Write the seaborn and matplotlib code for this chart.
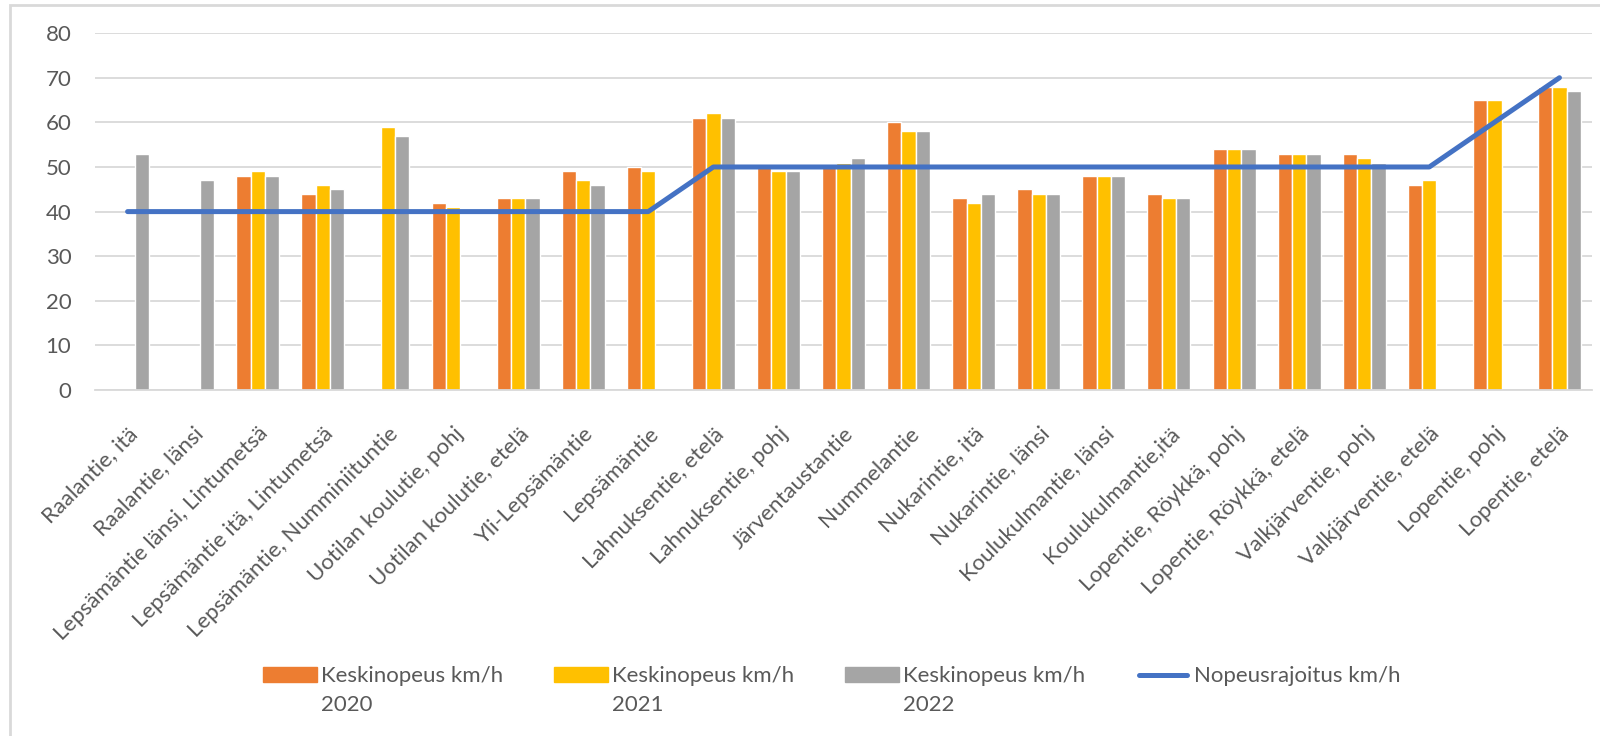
import numpy as np
import pandas as pd
import matplotlib.pyplot as plt
from matplotlib.patches import Rectangle, Patch
from matplotlib.lines import Line2D
from matplotlib.legend_handler import HandlerPatch
import seaborn as sns

paikat = [
    'Raalantie, itä', 'Raalantie, länsi', 'Lepsämäntie länsi, Lintumetsä',
    'Lepsämäntie itä, Lintumetsä', 'Lepsämäntie, Numminiituntie',
    'Uotilan koulutie, pohj', 'Uotilan koulutie, etelä', 'Yli-Lepsämäntie',
    'Lepsämäntie', 'Lahnuksentie, etelä', 'Lahnuksentie, pohj',
    'Järventaustantie', 'Nummelantie', 'Nukarintie, itä', 'Nukarintie, länsi',
    'Koulukulmantie, länsi', 'Koulukulmantie,itä', 'Lopentie, Röykkä, pohj',
    'Lopentie, Röykkä, etelä', 'Valkjärventie, pohj', 'Valkjärventie, etelä',
    'Lopentie, pohj', 'Lopentie, etelä',
]
nan = np.nan
v2020 = [nan, nan, 48, 44, nan, 42, 43, 49, 50, 61, 50, 50, 60, 43, 45, 48, 44, 54, 53, 53, 46, 65, 68]
v2021 = [nan, nan, 49, 46, 59, 41, 43, 47, 49, 62, 49, 51, 58, 42, 44, 48, 43, 54, 53, 52, 47, 65, 68]
v2022 = [53, 47, 48, 45, 57, nan, 43, 46, nan, 61, 49, 52, 58, 44, 44, 48, 43, 54, 53, 51, nan, nan, 67]
rajoitus = [40, 40, 40, 40, 40, 40, 40, 40, 40, 50, 50, 50, 50, 50, 50, 50, 50, 50, 50, 50, 50, 60, 70]

sarjat = ['Keskinopeus km/h\n2020', 'Keskinopeus km/h\n2021', 'Keskinopeus km/h\n2022']
varit = ['#ED7D31', '#FFC000', '#A5A5A5']
viiva_nimi = 'Nopeusrajoitus km/h'
viiva_vari = '#4472C4'

rows = []
for s, vals in zip(sarjat, [v2020, v2021, v2022]):
    for p, v in zip(paikat, vals):
        rows.append({'Paikka': p, 'Sarja': s, 'Nopeus': v})
df = pd.DataFrame(rows).dropna()

sns.set_style('white')
plt.rcParams['font.family'] = ['Lato', 'DejaVu Sans']
txt = '#595959'

fig = plt.figure(figsize=(16, 7.36), dpi=100)
ax = fig.add_axes([0.0594, 0.470, 0.9356, 0.485])

sns.barplot(data=df, x='Paikka', y='Nopeus', hue='Sarja', order=paikat,
            hue_order=sarjat, palette=dict(zip(sarjat, varit)),
            width=0.66, gap=0, errorbar=None, saturation=1, ax=ax, legend=False,
            zorder=2)
ax.plot(np.arange(len(paikat)), rajoitus, color=viiva_vari, lw=3.6,
        solid_capstyle='round', zorder=3)

ax.set_ylim(0, 80)
ax.set_xlim(-0.5, len(paikat) - 0.5)
ax.set_yticks(range(0, 81, 10))
ax.yaxis.grid(True, color='#D9D9D9', lw=1.3, zorder=0)
ax.set_axisbelow(True)
for side in ['top', 'right', 'left']:
    ax.spines[side].set_visible(False)
ax.spines['bottom'].set_color('#D9D9D9')
ax.spines['bottom'].set_linewidth(1.3)
ax.tick_params(axis='both', length=0, labelsize=16, colors=txt)
ax.tick_params(axis='y', pad=17)
ax.tick_params(axis='x', pad=24)
ax.set_xticks(range(len(paikat)))
ax.set_xticklabels(paikat, rotation=45, ha='right', rotation_mode='anchor')
ax.set_xlabel('')
ax.set_ylabel('')


# nostetaan selitteen merkit tekstin ensimmäisen rivin kohdalle
def ylempi_laatikko(legend, orig_handle, xdescent, ydescent, width, height, fontsize):
    return Rectangle((-xdescent, -ydescent + 0.72 * fontsize), width, height)


class YlempiViiva:
    def legend_artist(self, legend, orig_handle, fontsize, handlebox):
        x0, y0 = -handlebox.xdescent, -handlebox.ydescent
        w, h = handlebox.width, handlebox.height
        y = y0 + h / 2 + 0.72 * fontsize
        ln = Line2D([x0 + 2, x0 + w - 2], [y, y], color=viiva_vari, lw=3.6,
                    solid_capstyle='round')
        handlebox.add_artist(ln)
        return ln


handles = [Patch(color=c) for c in varit] + [Line2D([], [], color=viiva_vari)]
leg = fig.legend(handles, sarjat + [viiva_nimi + '\n '], loc='center',
                 bbox_to_anchor=(0.52, 0.062),
                 ncol=4, frameon=False, fontsize=16, columnspacing=2.3,
                 handlelength=2.4, handleheight=0.64, handletextpad=0.2,
                 handler_map={Patch: HandlerPatch(patch_func=ylempi_laatikko),
                              Line2D: YlempiViiva()})
for t in leg.get_texts():
    t.set_color(txt)
    t.set_linespacing(1.55)

fig.patches.append(Rectangle((10 / 1600, -0.01), 1.1, 1 - 5 / 736 + 0.01,
                             transform=fig.transFigure, fill=False,
                             edgecolor='#D9D9D9', lw=2))

fig.savefig('out.png', dpi=100)
